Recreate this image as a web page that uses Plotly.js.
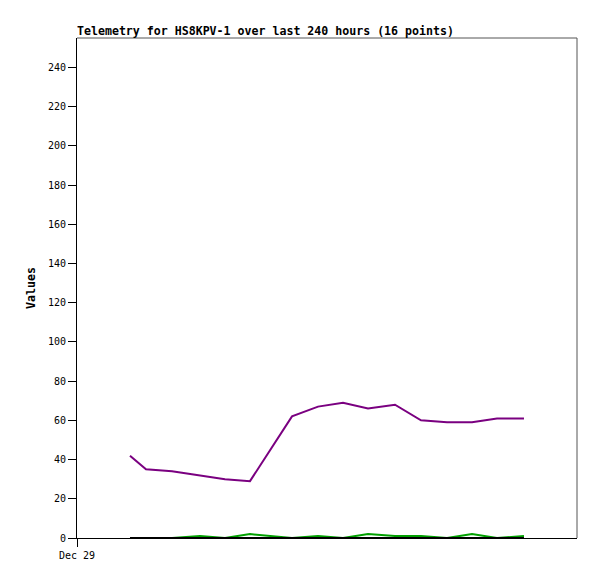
<!DOCTYPE html>
<html>
<head>
<meta charset="utf-8">
<script src="https://cdn.plot.ly/plotly-3.0.1.min.js"></script>
<style>html,body{margin:0;padding:0;background:#fff;}#chart{width:597px;height:579px;}</style>
</head>
<body>
<div id="chart"></div>
<script>
// Timestamps of the 16 telemetry points
const times = [
  '2024-12-30 01:26', '2024-12-30 09:07', '2024-12-30 21:36', '2024-12-31 11:02',
  '2024-12-31 23:02', '2025-01-01 11:02', '2025-01-02 07:12', '2025-01-02 19:41',
  '2025-01-03 07:41', '2025-01-03 19:41', '2025-01-04 08:38', '2025-01-04 21:07',
  '2025-01-05 09:36', '2025-01-05 21:36', '2025-01-06 09:36', '2025-01-06 22:33'
];
// Series values
const purpleValues = [42, 35, 34, 32, 30, 29, 62, 67, 69, 66, 68, 60, 59, 59, 61, 61];
const greenValues  = [0, 0, 0, 1, 0, 2, 0, 1, 0, 2, 1, 1, 0, 2, 0, 1];
const blackValues  = [0, 0, 0, 0, 0, 0, 0, 0, 0, 0, 0, 0, 0, 0, 0, 0];
// Axis
const xRange = ['2024-12-29 00:00', '2025-01-08 00:00'];
const xTickVals = ['2024-12-29 00:00'];
const xTickText = ['Dec 29'];
const yTickVals = [0, 20, 40, 60, 80, 100, 120, 140, 160, 180, 200, 220, 240];

const mono = 'DejaVu Sans Mono, monospace';

const traces = [
  {x: times, y: greenValues, type: 'scatter', mode: 'lines', line: {color: '#00a000', width: 2}, hoverinfo: 'skip'},
  {x: times, y: blackValues, type: 'scatter', mode: 'lines', line: {color: '#000000', width: 2}, hoverinfo: 'skip'},
  {x: times, y: purpleValues, type: 'scatter', mode: 'lines', line: {color: '#7a0080', width: 2}, hoverinfo: 'skip'}
];

const layout = {
  width: 597, height: 579,
  margin: {l: 77, r: 20, t: 38, b: 41, pad: 0},
  paper_bgcolor: '#ffffff', plot_bgcolor: '#ffffff',
  showlegend: false,
  font: {family: mono, size: 10, color: '#000'},
  title: {
    text: '<b>Telemetry for HS8KPV-1 over last 240 hours (16 points)</b>',
    font: {family: mono, size: 11.6, color: '#000'},
    xref: 'container', yref: 'container',
    x: 77/597, xanchor: 'left', y: 1 - 31/579, yanchor: 'middle'
  },
  xaxis: {
    type: 'date', range: xRange,
    tickmode: 'array', tickvals: xTickVals, ticktext: xTickText,
    ticks: 'outside', ticklen: 8, tickcolor: '#000', tickwidth: 1,
    showgrid: false, zeroline: false,
    showline: true, linecolor: '#000', linewidth: 1,
    tickfont: {family: mono, size: 10, color: '#000'}
  },
  yaxis: {
    range: [0, 255],
    tickmode: 'array', tickvals: yTickVals,
    ticks: 'outside', ticklen: 8, tickcolor: '#000', tickwidth: 1,
    showgrid: false, zeroline: false,
    showline: true, linecolor: '#000', linewidth: 1,
    tickfont: {family: mono, size: 10, color: '#000'},
    title: {text: '<b>Values</b>', font: {family: mono, size: 11.6, color: '#000'}, standoff: 9}
  },
  shapes: [
    {type: 'line', xref: 'paper', yref: 'paper', x0: 0, x1: 1, y0: 1, y1: 1, line: {color: '#555', width: 1}},
    {type: 'line', xref: 'paper', yref: 'paper', x0: 1, x1: 1, y0: 0, y1: 1, line: {color: '#555', width: 1}}
  ]
};

Plotly.newPlot('chart', traces, layout, {staticPlot: true, displayModeBar: false});
</script>
</body>
</html>
